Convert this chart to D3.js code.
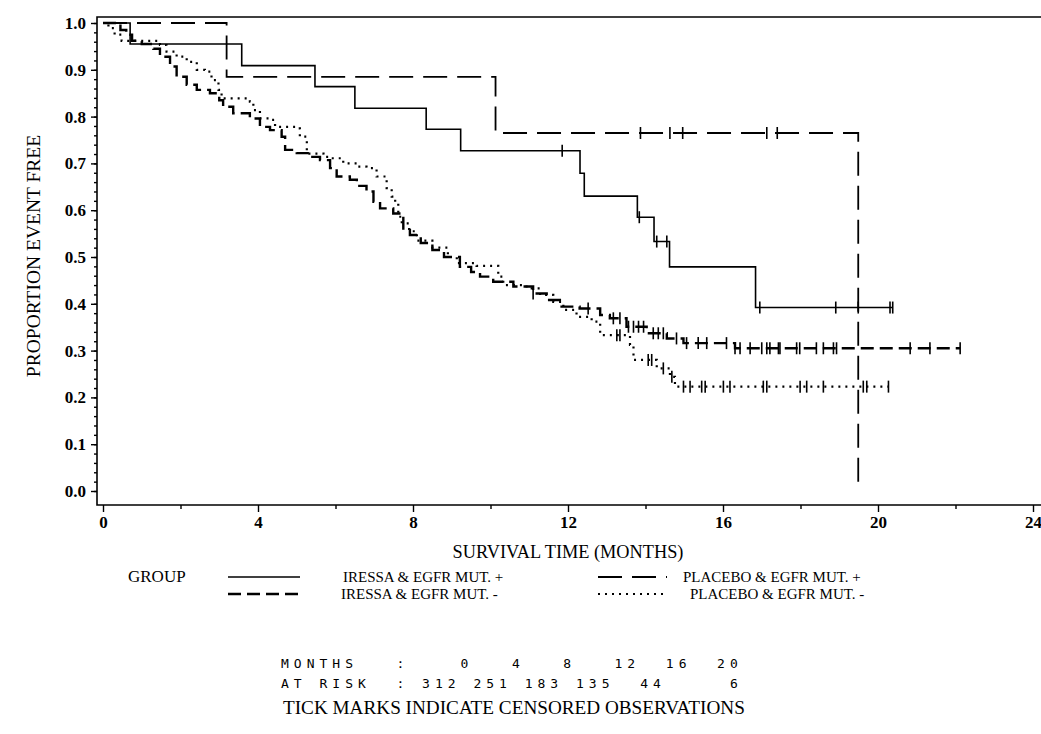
<!DOCTYPE html>
<html>
<head>
<meta charset="utf-8">
<script src="https://cdn.jsdelivr.net/npm/d3@7"></script>
<style>
body { margin: 0; background: #fff; }
svg text { font-family: "Liberation Serif", "Times New Roman", serif; fill: #000; }
svg text.risk { font-family: "DejaVu Sans Mono", monospace; font-size: 13px; letter-spacing: 5px; white-space: pre; }
</style>
</head>
<body>
<svg id="km" width="1041" height="734"></svg>
<script>
// Kaplan-Meier curves.
// Steps are [month, proportion event free]; each curve is followed to its last month.
const groupNames = ['IRESSA & EGFR MUT. +', 'IRESSA & EGFR MUT. -', 'PLACEBO & EGFR MUT. +', 'PLACEBO & EGFR MUT. -'];

const iressaPosSteps = [[0, 1], [0.70, 0.955], [3.58, 0.909], [5.47, 0.864], [6.50, 0.818], [8.34, 0.773],
    [9.23, 0.727], [12.31, 0.679], [12.42, 0.630], [13.79, 0.585], [14.22, 0.533], [14.62, 0.479], [16.84, 0.392]];
const iressaPosEnd = 20.38;
const iressaPosCensored = [11.85, 13.84, 14.29, 14.55, 16.95, 18.91, 19.49, 20.31, 20.38];

const iressaNegSteps = [[0, 1], [0.45, 0.985], [0.6, 0.975], [0.75, 0.962], [1.0, 0.955], [1.3, 0.945], [1.47, 0.928],
    [1.73, 0.907], [1.9, 0.885], [2.16, 0.868], [2.42, 0.857], [2.76, 0.850], [3.0, 0.835], [3.1, 0.821], [3.36, 0.807],
    [3.79, 0.796], [4.05, 0.778], [4.31, 0.771], [4.61, 0.757], [4.70, 0.729], [5.0, 0.722], [5.34, 0.714], [5.6, 0.707],
    [5.86, 0.690], [6.03, 0.672], [6.37, 0.665], [6.55, 0.652], [6.8, 0.640], [6.98, 0.618], [7.15, 0.604], [7.49, 0.593],
    [7.75, 0.558], [7.92, 0.547], [8.2, 0.530], [8.5, 0.515], [8.8, 0.500], [9.21, 0.479], [9.5, 0.468], [9.73, 0.458],
    [10.07, 0.447], [10.59, 0.437], [11.1, 0.422], [11.45, 0.408], [11.79, 0.394], [12.3, 0.390], [12.83, 0.376],
    [13.08, 0.369], [13.51, 0.351], [14.03, 0.337], [14.55, 0.326], [14.98, 0.316], [16.31, 0.305]];
const iressaNegEnd = 22.12;
const iressaNegCensored = [11.1, 12.52, 13.17, 13.34, 13.56, 13.69, 13.82, 13.95, 14.2, 14.33, 14.46, 14.8, 15.06, 15.36,
    15.58, 16.09, 16.31, 16.44, 16.70, 17.0, 17.13, 17.21, 17.43, 17.47, 17.90, 17.98, 18.41, 18.59, 18.85, 18.93,
    20.83, 21.34, 22.12];

const placeboPosSteps = [[0, 1], [3.19, 0.885], [10.13, 0.765], [19.49, 0]];
const placeboPosEnd = 19.49;
const placeboPosCensored = [13.87, 14.63, 14.96, 17.13, 17.40];

const placeboNegSteps = [[0, 1], [0.14, 0.989], [0.3, 0.975], [0.48, 0.962], [1.47, 0.953], [1.64, 0.939], [1.9, 0.928],
    [2.16, 0.917], [2.42, 0.90], [2.63, 0.896], [2.8, 0.878], [2.98, 0.857], [3.06, 0.839], [3.79, 0.832], [3.88, 0.814],
    [4.05, 0.796], [4.35, 0.793], [4.44, 0.778], [5.0, 0.775], [5.08, 0.757], [5.26, 0.721], [5.69, 0.714], [5.86, 0.711],
    [6.2, 0.700], [6.55, 0.693], [6.8, 0.690], [7.06, 0.672], [7.32, 0.647], [7.45, 0.629], [7.54, 0.615], [7.62, 0.586],
    [7.71, 0.572], [7.9, 0.555], [8.1, 0.535], [8.5, 0.520], [8.9, 0.500], [9.13, 0.487], [9.64, 0.481], [10.2, 0.458],
    [10.33, 0.440], [10.93, 0.433], [11.28, 0.419], [11.62, 0.404], [11.88, 0.387], [12.22, 0.372], [12.61, 0.362],
    [12.83, 0.333], [13.6, 0.312], [13.69, 0.280], [14.29, 0.262], [14.63, 0.244], [14.76, 0.223]];
const placeboNegEnd = 20.27;
const placeboNegCensored = [13.26, 13.34, 14.07, 14.16, 14.46, 14.68, 14.98, 15.15, 15.45, 15.54, 16.01, 16.18, 17.04,
    17.13, 17.99, 18.16, 18.59, 19.62, 19.71, 20.27];

const xTicks = [0, 4, 8, 12, 16, 20, 24];
const yTicks = [0, 0.1, 0.2, 0.3, 0.4, 0.5, 0.6, 0.7, 0.8, 0.9, 1.0];

// number at risk table
const riskMonths = [0, 4, 8, 12, 16, 20];
const riskCounts = [312, 251, 183, 135, 44, 6];

// line styles, same order as groupNames
const groupStyles = [
    { width: 1.6, dash: null },
    { width: 2.4, dash: '13,6' },
    { width: 1.8, dash: '24,10' },
    { width: 2.2, dash: '2,5' }
];

const curves = [
    { steps: iressaPosSteps, end: iressaPosEnd, censored: iressaPosCensored },
    { steps: iressaNegSteps, end: iressaNegEnd, censored: iressaNegCensored },
    { steps: placeboPosSteps, end: placeboPosEnd, censored: placeboPosCensored },
    { steps: placeboNegSteps, end: placeboNegEnd, censored: placeboNegCensored }
];

const serif = '"Liberation Serif", "Times New Roman", serif';
const svg = d3.select('#km');

const x = d3.scaleLinear().domain([0, 24]).range([103, 1033]);
const y = d3.scaleLinear().domain([0, 1]).range([491, 23]);

const frameLeft = 97, frameTop = 17, frameBottom = 505;

// frame: top, left and bottom rules
svg.append('path')
    .attr('d', `M1041,${frameTop}H${frameLeft}V${frameBottom}H1041`)
    .attr('fill', 'none')
    .attr('stroke', '#000')
    .attr('stroke-width', 1.6);

// y axis, minor then major ticks
svg.append('g')
    .attr('transform', `translate(${frameLeft},0)`)
    .call(d3.axisLeft(y).tickValues(d3.range(0, 1.001, 0.02)).tickSize(3).tickFormat(''))
    .call(g => g.select('.domain').remove());
svg.append('g')
    .attr('class', 'y-axis')
    .attr('transform', `translate(${frameLeft},0)`)
    .call(d3.axisLeft(y).tickValues(yTicks).tickSize(6).tickPadding(5).tickFormat(d3.format('.1f')))
    .call(g => g.select('.domain').remove());

// x axis
svg.append('g')
    .attr('transform', `translate(0,${frameBottom})`)
    .call(d3.axisBottom(x).tickValues(d3.range(2, 24, 4)).tickSize(4).tickFormat(''))
    .call(g => g.select('.domain').remove());
svg.append('g')
    .attr('class', 'x-axis')
    .attr('transform', `translate(0,${frameBottom})`)
    .call(d3.axisBottom(x).tickValues(xTicks).tickSize(7).tickPadding(4).tickFormat(d3.format('d')))
    .call(g => g.select('.domain').remove());

svg.selectAll('.tick line').attr('stroke', '#000').attr('stroke-width', 1.4);
svg.selectAll('.tick text')
    .style('font-family', serif)
    .style('font-size', '17px')
    .style('font-weight', 'bold');

// axis titles
svg.append('text')
    .attr('transform', 'translate(40,256) rotate(-90)')
    .attr('text-anchor', 'middle')
    .style('font-family', serif)
    .style('font-size', '19.5px')
    .text('PROPORTION EVENT  FREE');

svg.append('text')
    .attr('x', 568).attr('y', 558)
    .attr('text-anchor', 'middle')
    .style('font-family', serif)
    .style('font-size', '18.3px')
    .text('SURVIVAL TIME (MONTHS)');

// step value at month t
function valueAt(steps, t) {
    let p = steps[0][1];
    for (const s of steps) {
        if (s[0] <= t) p = s[1];
    }
    return p;
}

const line = d3.line()
    .x(d => x(d[0]))
    .y(d => y(d[1]))
    .curve(d3.curveStepAfter);

const plot = svg.append('g');

curves.forEach((c, i) => {
    const st = groupStyles[i];
    const pts = c.steps.concat([[c.end, c.steps[c.steps.length - 1][1]]]);
    plot.append('path')
        .datum(pts)
        .attr('d', line)
        .attr('fill', 'none')
        .attr('stroke', '#000')
        .attr('stroke-width', st.width)
        .attr('stroke-dasharray', st.dash);

    plot.selectAll(null)
        .data(c.censored)
        .enter().append('line')
        .attr('x1', d => x(d))
        .attr('x2', d => x(d))
        .attr('y1', d => y(valueAt(c.steps, d)) - 6)
        .attr('y2', d => y(valueAt(c.steps, d)) + 6)
        .attr('stroke', '#000')
        .attr('stroke-width', 1.6);
});

// legend (two tight rows, kept just far enough apart not to collide)
const legendRows = [582, 599];
const legendCols = [{ x1: 228, x2: 300, tx: [343, 341] }, { x1: 598, x2: 667, tx: [683, 690] }];
svg.append('text')
    .attr('x', 128).attr('y', legendRows[0])
    .style('font-family', serif)
    .style('font-size', '17px')
    .text('GROUP');

groupNames.forEach((name, i) => {
    const col = legendCols[Math.floor(i / 2)];
    const r = i % 2;
    const row = legendRows[r];
    svg.append('line')
        .attr('x1', col.x1).attr('x2', col.x2)
        .attr('y1', row - 5).attr('y2', row - 5)
        .attr('stroke', '#000')
        .attr('stroke-width', groupStyles[i].width)
        .attr('stroke-dasharray', groupStyles[i].dash);
    svg.append('text')
        .attr('x', col.tx[r]).attr('y', row)
        .style('font-family', serif)
        .style('font-size', '15px')
        .text(name);
});

// number at risk, laid out on a fixed character grid like the original print-out
const monthCols = [14, 18, 22, 27, 31, 35];
const countCols = [13, 17, 21, 25, 29, 35];
function gridRow(label, values, cols) {
    let s = label;
    values.forEach((v, i) => {
        const str = String(v);
        s = s.padEnd(cols[i] + 1 - str.length) + str;
    });
    return s;
}
svg.append('text').attr('class', 'risk')
    .attr('x', 281).attr('y', 668)
    .text(gridRow('MONTHS   :', riskMonths, monthCols));
svg.append('text').attr('class', 'risk')
    .attr('x', 281).attr('y', 688)
    .text(gridRow('AT RISK  :', riskCounts, countCols));

svg.append('text')
    .attr('x', 283).attr('y', 714)
    .style('font-family', serif)
    .style('font-size', '19.2px')
    .text('TICK MARKS INDICATE CENSORED OBSERVATIONS');
</script>
</body>
</html>
